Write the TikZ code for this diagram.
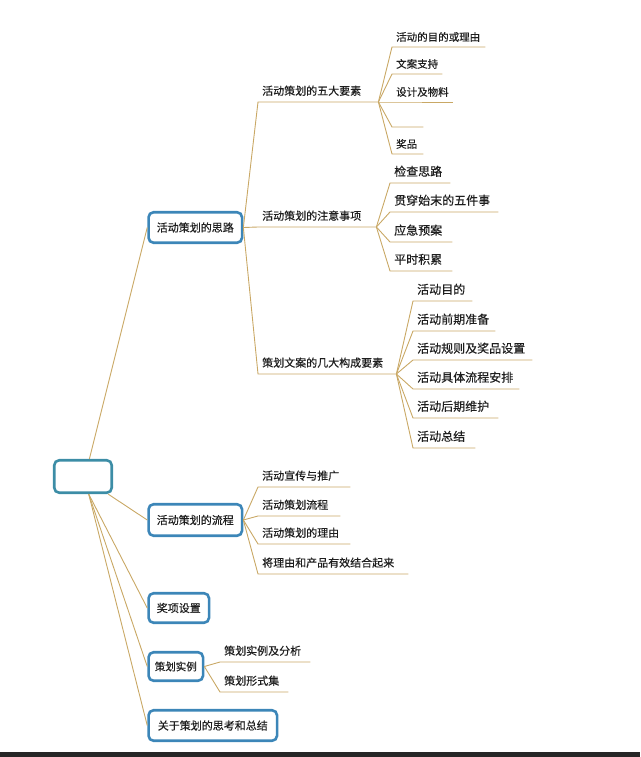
\documentclass[tikz,border=0pt]{standalone}
\usepackage{fontspec}
\setmainfont{Noto Sans CJK SC}[FakeBold=0.35]
\definecolor{linkgold}{HTML}{C9A865}
\definecolor{topicblue}{HTML}{3C86B8}
\definecolor{rootteal}{HTML}{3C8DA6}
\definecolor{inkgray}{HTML}{1E1E1E}
\definecolor{barblack}{HTML}{262626}
\begin{document}
\begin{tikzpicture}[x=1pt, y=-1pt,
    link/.style={draw=linkgold, line width=0.9pt},
    topic/.style={draw=topicblue, line width=2.6pt, rounded corners=5pt, fill=white, anchor=west,
        minimum height=30.5pt, inner xsep=6pt, text=inkgray, font=\fontsize{11}{13}\selectfont},
    leaf/.style={anchor=south west, inner xsep=4pt, inner ysep=6pt, text width=#1, align=left,
        text=inkgray, font=\fontsize{11}{13}\selectfont},
    smallleaf/.style={font=\fontsize{10.5}{12}\selectfont, inner ysep=5pt},
    bigleaf/.style={font=\fontsize{12}{14}\selectfont}]
    \useasboundingbox (0,0) rectangle (640,757);
    \fill[barblack] (0,752) rectangle (640,757);

    % Draw nodes
    \node[topic, draw=rootteal, minimum width=57.5pt, minimum height=32.5pt, anchor=center] (root) at (83,476.5) {};
    \node[topic, minimum width=93.5pt] (siluo) at (147.25,227.5) {活动策划的思路};
    \node[topic, minimum width=93.5pt, minimum height=31.5pt] (liucheng) at (147.25,520) {活动策划的流程};
    \node[topic, minimum width=60.5pt, minimum height=29.5pt] (jiangxiang) at (147.25,608) {奖项设置};
    \node[topic, minimum width=54.5pt, minimum height=28.5pt, inner xsep=5pt, font=\fontsize{10.5}{12}\selectfont] (shili) at (147.25,666.5) {策划实例};
    \node[topic, minimum width=128.5pt] (sikao) at (147.25,725.5) {关于策划的思考和总结};

    \node[leaf=112pt] (wuda) at (258,102) {活动策划的五大要素};
    \node[leaf=110pt] (zhuyi) at (258,227) {活动策划的注意事项};
    \node[leaf=130pt] (goucheng) at (258,374) {策划文案的几大构成要素};

    \node[leaf=85pt, smallleaf] (w1) at (392,47) {活动的目的或理由};
    \node[leaf=42pt, smallleaf] (w2) at (392,74) {文案支持};
    \node[leaf=53pt, smallleaf] (w3) at (392,102) {设计及物料};
    \node[leaf=23pt, smallleaf] (w4) at (392,127) {};
    \node[leaf=23pt, smallleaf] (w5) at (392,154) {奖品};

    \node[leaf=52pt, bigleaf] (z1) at (390,183) {检查思路};
    \node[leaf=100pt, bigleaf] (z2) at (390,212) {贯穿始末的五件事};
    \node[leaf=54pt, bigleaf] (z3) at (390,242) {应急预案};
    \node[leaf=54pt, bigleaf] (z4) at (390,271) {平时积累};

    \node[leaf=51pt, bigleaf] (g1) at (413,301) {活动目的};
    \node[leaf=74pt, bigleaf] (g2) at (413,331) {活动前期准备};
    \node[leaf=111pt, bigleaf] (g3) at (413,360) {活动规则及奖品设置};
    \node[leaf=98pt, bigleaf] (g4) at (413,389) {活动具体流程安排};
    \node[leaf=77pt, bigleaf] (g5) at (413,418) {活动后期维护};
    \node[leaf=54pt, bigleaf] (g6) at (413,448) {活动总结};

    \node[leaf=84pt] (l1) at (258,487) {活动宣传与推广};
    \node[leaf=74pt] (l2) at (258,516) {活动策划流程};
    \node[leaf=84pt] (l3) at (258,544) {活动策划的理由};
    \node[leaf=142pt] (l4) at (258,574) {将理由和产品有效结合起来};

    \node[leaf=82pt] (s1) at (220,662) {策划实例及分析};
    \node[leaf=60pt] (s2) at (220,692) {策划形式集};

    % Draw edges from the centre
    \draw[link] (root.70) -- (siluo.west);
    \draw[link] (root.-35) -- (liucheng.west);
    \draw[link] (root.-72) -- (jiangxiang.west);
    \draw[link] (root.-72) -- (shili.west);
    \draw[link] (root.-72) -- (sikao.west);

    % Draw edges of the first topic
    \draw[link] (siluo.east) -- (wuda.south west) -- (wuda.south east);
    \draw[link] (siluo.east) -- (zhuyi.south west) -- (zhuyi.south east);
    \draw[link] (siluo.east) -- (goucheng.south west) -- (goucheng.south east);

    \draw[link] (wuda.south east) -- (w1.south west) -- (w1.south east);
    \draw[link] (wuda.south east) -- (w2.south west) -- (w2.south east);
    \draw[link] (wuda.south east) -- (w3.south west) -- (w3.south east);
    \draw[link] (wuda.south east) -- (w4.south west) -- (w4.south east);
    \draw[link] (wuda.south east) -- (w5.south west) -- (w5.south east);

    \draw[link] (zhuyi.south east) -- (z1.south west) -- (z1.south east);
    \draw[link] (zhuyi.south east) -- (z2.south west) -- (z2.south east);
    \draw[link] (zhuyi.south east) -- (z3.south west) -- (z3.south east);
    \draw[link] (zhuyi.south east) -- (z4.south west) -- (z4.south east);

    \draw[link] (goucheng.south east) -- (g1.south west) -- (g1.south east);
    \draw[link] (goucheng.south east) -- (g2.south west) -- (g2.south east);
    \draw[link] (goucheng.south east) -- (g3.south west) -- (g3.south east);
    \draw[link] (goucheng.south east) -- (g4.south west) -- (g4.south east);
    \draw[link] (goucheng.south east) -- (g5.south west) -- (g5.south east);
    \draw[link] (goucheng.south east) -- (g6.south west) -- (g6.south east);

    % Draw edges of the other topics
    \draw[link] (liucheng.east) -- (l1.south west) -- (l1.south east);
    \draw[link] (liucheng.east) -- (l2.south west) -- (l2.south east);
    \draw[link] (liucheng.east) -- (l3.south west) -- (l3.south east);
    \draw[link] (liucheng.east) -- (l4.south west) -- (l4.south east);

    \draw[link] (shili.east) -- (s1.south west) -- (s1.south east);
    \draw[link] (shili.east) -- (s2.south west) -- (s2.south east);
\end{tikzpicture}
\end{document}
